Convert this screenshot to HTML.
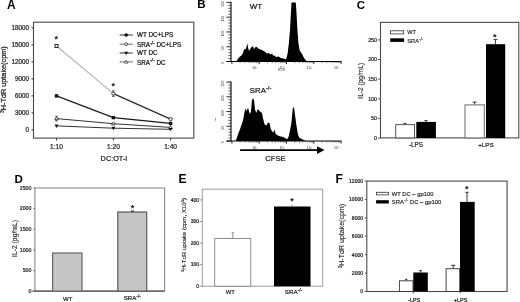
<!DOCTYPE html>
<html>
<head>
<meta charset="utf-8">
<title>Figure</title>
<style>
html,body{margin:0;padding:0;background:#fff;}
body{width:520px;height:302px;overflow:hidden;}
svg{display:block;filter:blur(0.35px);}
text{font-family:"Liberation Sans",Arial,sans-serif;fill:#111;stroke:#111;stroke-width:0.22px;}
.pl,.st{stroke:none;}
.pl{font-weight:bold;font-size:10.5px;fill:#000;}
.tk{font-size:6.3px;text-anchor:end;fill:#333;}
.tks{font-size:4.8px;text-anchor:end;fill:#333;}
.xl{font-size:6.6px;text-anchor:middle;fill:#333;}
.xls{font-size:5.4px;text-anchor:middle;fill:#333;}
.lg{font-size:6.3px;fill:#151515;}
.lgs{font-size:5.2px;fill:#222;stroke-width:0.14px;}
.yl{font-size:6.6px;text-anchor:middle;fill:#222;}
.yls{font-size:5.6px;text-anchor:middle;fill:#222;stroke-width:0.1px;}
.tiny{font-size:3.5px;fill:#333;stroke:none;text-anchor:middle;}
.ax{stroke:#444;stroke-width:0.9;fill:none;}
.axg{stroke:#888;stroke-width:0.9;fill:none;}
.st{font-size:9px;text-anchor:middle;fill:#111;font-weight:bold;}
</style>
</head>
<body>
<svg width="520" height="302" viewBox="0 0 520 302">
<rect x="0" y="0" width="520" height="302" fill="#ffffff"/>

<!-- ================= Panel A ================= -->
<g id="panelA">
<text class="pl" x="7" y="8.6" style="font-size:12px">A</text>
<rect x="33.5" y="22.2" width="160.3" height="115.9" stroke="#4a4a4a" stroke-width="1.1" fill="none"/>
<path d="M31.5 129.9H33.5M31.5 112.9H33.5M31.5 95.9H33.5M31.5 78.9H33.5M31.5 61.9H33.5M31.5 44.9H33.5M31.5 27.9H33.5M56.5 138.1V140.4M113.4 138.1V140.4M170.6 138.1V140.4" stroke="#333" stroke-width="1" fill="none"/>
<text class="tk" x="28.9" y="132.2">0</text>
<text class="tk" x="28.9" y="115.2">3000</text>
<text class="tk" x="28.9" y="98.2">6000</text>
<text class="tk" x="28.9" y="81.2">9000</text>
<text class="tk" x="28.9" y="64.2">12000</text>
<text class="tk" x="28.9" y="47.2">15000</text>
<text class="tk" x="28.9" y="30.2">18000</text>
<text class="xl" x="56.5" y="149">1:10</text>
<text class="xl" x="113.4" y="149">1:20</text>
<text class="xl" x="170.6" y="149">1:40</text>
<text class="xl" x="114" y="161.1" style="font-size:7.3px">DC:OT-I</text>
<text class="yl" transform="translate(6.3 79.7) rotate(-90)" textLength="66.8" lengthAdjust="spacingAndGlyphs" style="font-size:6.9px"><tspan font-size="4.8" dy="-2.2">3</tspan><tspan dy="2.2">H-TdR uptake(cpm)</tspan></text>
<path d="M56.5 46L113.4 93.6" stroke="#b4b4b4" stroke-width="1.15" fill="none"/>
<path d="M113.4 93.6L170.6 119.1" stroke="#2a2a2a" stroke-width="1.2" fill="none"/>
<path d="M56.5 95.9L113.4 117.6L170.6 123.4" stroke="#1a1a1a" stroke-width="1.2" fill="none"/>
<path d="M56.5 118.6L113.4 123.7L170.6 127.4" stroke="#333" stroke-width="1" fill="none"/>
<path d="M56.5 125.9L113.4 128.2L170.6 129.3" stroke="#333" stroke-width="1" fill="none"/>
<path d="M113.4 90.8V96.4M112 90.8H114.8M112 96.4H114.8M56.5 116.2V121M55.2 116.2H57.8M55.2 121H57.8" stroke="#333" stroke-width="0.7" fill="none"/>
<rect x="55" y="44.5" width="3" height="3" fill="#fff" stroke="#222" stroke-width="1"/>
<circle cx="113.4" cy="93.6" r="1.6" fill="#fff" stroke="#222" stroke-width="0.9"/>
<circle cx="170.6" cy="119.1" r="1.6" fill="#fff" stroke="#222" stroke-width="0.9"/>
<rect x="54.8" y="94.2" width="3.4" height="3.4" fill="#111"/>
<rect x="111.7" y="115.9" width="3.4" height="3.4" fill="#111"/>
<rect x="168.9" y="121.7" width="3.4" height="3.4" fill="#111"/>
<path d="M56.5 116.7L58.3 119.8H54.7ZM113.4 121.8L115.2 124.9H111.6ZM170.6 125.5L172.4 128.6H168.8Z" fill="#fff" stroke="#222" stroke-width="0.8"/>
<path d="M54.5 124.5H58.5L56.5 127.9ZM111.4 126.8H115.4L113.4 130.2ZM168.6 127.9H172.6L170.6 131.3Z" fill="#111"/>
<text class="st" x="56.2" y="42">*</text>
<text class="st" x="113.3" y="89.2">*</text>
<path d="M119.6 35H132.8M119.6 53H132.8" stroke="#333" stroke-width="1"/>
<path d="M119.6 44.2H132.8M119.6 61.9H132.8" stroke="#666" stroke-width="1"/>
<circle cx="126.2" cy="35" r="1.8" fill="#111"/>
<circle cx="126.2" cy="44.2" r="1.4" fill="#fff" stroke="#222" stroke-width="0.8"/>
<path d="M124.2 51.7H128.2L126.2 55Z" fill="#111"/>
<path d="M126.2 60.1L128 63.1H124.4Z" fill="#fff" stroke="#222" stroke-width="0.7"/>
<text class="lg" x="137" y="37.3">WT DC+LPS</text>
<text class="lg" x="137" y="47.2">SRA<tspan font-size="5" dy="-2.7">-/-</tspan><tspan dy="2.7"> DC+LPS</tspan></text>
<text class="lg" x="137" y="55.3">WT DC</text>
<text class="lg" x="137" y="64.6">SRA<tspan font-size="5" dy="-2.7">-/-</tspan><tspan dy="2.7"> DC</tspan></text>
</g>

<!-- ================= Panel B ================= -->
<g id="panelB">
<text class="pl" x="197.2" y="8.2" style="font-size:11.5px">B</text>
<path d="M236.4 61.5L238.2 58.3L240 56.4L241.8 55.2L243.1 52.8L244.2 49.2L245.5 49.2L246.4 47.3L247.3 43.3L248.2 48.3L249.1 51L250 49.2L251.5 47.3L252.8 46.1L254 49.2L255.1 47.3L257 47L258.2 48.6L260.1 49.2L261.9 50.1L263.7 51L265.5 51.9L267 53.7L268.6 52.8L270.4 54.6L272.2 53.6L273.2 56.2L273.9 54.9L276 57L278.6 56.4L280.8 58.1L283.3 58.5L286.1 59.2L287.6 53.8L288.9 43L290 30.1L290.9 12.9L291.5 2.6L295.8 2.6L296.5 12.9L297.3 28L298.4 43L299.7 50.6L301.9 53.8L304 58.1L306.2 60.7L308.3 61.5Z" fill="#000"/>
<path d="M231 1.8 V62 M226.6 61.5 H341.4" stroke="#000" stroke-width="1.1" fill="none"/>
<path d="M226.4 2.40H231M226.4 17.18H231M226.4 31.95H231M226.4 46.73H231M226.4 61.50H231" stroke="#111" stroke-width="0.9" fill="none"/>
<path d="M228.3 5.36H231M228.3 8.31H231M228.3 11.27H231M228.3 14.22H231M228.3 20.13H231M228.3 23.09H231M228.3 26.04H231M228.3 29.00H231M228.3 34.91H231M228.3 37.86H231M228.3 40.81H231M228.3 43.77H231M228.3 49.68H231M228.3 52.64H231M228.3 55.59H231M228.3 58.55H231" stroke="#222" stroke-width="0.7" fill="none"/>
<path d="M231.90 61.5V64.1M259.20 61.5V64.1M286.50 61.5V64.1M313.80 61.5V64.1M341.10 61.5V64.1" stroke="#111" stroke-width="0.9" fill="none"/>
<path d="M240.12 61.5V63.1M244.93 61.5V63.1M248.34 61.5V63.1M250.98 61.5V63.1M253.14 61.5V63.1M254.97 61.5V63.1M256.55 61.5V63.1M257.95 61.5V63.1M267.42 61.5V63.1M272.23 61.5V63.1M275.64 61.5V63.1M278.28 61.5V63.1M280.44 61.5V63.1M282.27 61.5V63.1M283.85 61.5V63.1M285.25 61.5V63.1M294.72 61.5V63.1M299.53 61.5V63.1M302.94 61.5V63.1M305.58 61.5V63.1M307.74 61.5V63.1M309.57 61.5V63.1M311.15 61.5V63.1M312.55 61.5V63.1M322.02 61.5V63.1M326.83 61.5V63.1M330.24 61.5V63.1M332.88 61.5V63.1M335.04 61.5V63.1M336.87 61.5V63.1M338.45 61.5V63.1M339.85 61.5V63.1" stroke="#333" stroke-width="0.6" fill="none"/>
<text class="tiny" x="254.8" y="69.1">10¹</text>
<text class="tiny" x="282.1" y="69.1">10²</text>
<text class="tiny" x="309.4" y="69.1">10³</text>
<text class="tiny" x="336.7" y="69.1">10⁴</text>
<text class="tiny" transform="translate(224.4 3.8) rotate(-90)">200</text>
<text class="tiny" transform="translate(224.4 18.6) rotate(-90)">150</text>
<text class="tiny" transform="translate(224.4 33.4) rotate(-90)">100</text>
<text class="tiny" transform="translate(224.4 48.1) rotate(-90)">50</text>
<text class="tiny" transform="translate(224.4 62.9) rotate(-90)">0</text>
<text class="tiny" x="281.5" y="71.4" style="font-size:2.6px">FL1-H</text>
<text class="lg" x="249.7" y="8.7" style="font-size:7.9px">WT</text>
<path d="M235.8 141L238.2 133.7L240 129.2L241.3 125.5L243.1 120L244.2 113.7L245.5 108.2L246.4 110.9L247.3 109.1L248.2 108.2L249.7 113.7L250.9 111.9L251.9 100.9L252.8 98.2L254 100L255.1 110L256.4 112.8L257.7 109.1L259.1 110.4L260.6 111.9L261.9 112.8L263.2 119.1L264.6 124.6L266.4 125.5L267.9 122.8L269.4 122.8L270.8 129.2L273.2 132.8L274.5 129.6L275.6 133.7L277.8 135.5L280.5 136.4L283.2 137L285.4 138.3L287.2 139.2L288.7 136.4L290.1 130.1L291.4 122.8L292.3 113.7L292.9 107.3L294.1 107.9L295.1 115.5L296.3 124.6L297.8 133.7L299.2 137.7L301.4 138.8L304.2 140.3L306 141Z" fill="#000"/>
<path d="M231 81.5 V141.5 M226.6 141 H341.4" stroke="#000" stroke-width="1.1" fill="none"/>
<path d="M226.4 82.10H231M226.4 96.82H231M226.4 111.55H231M226.4 126.28H231M226.4 141.00H231" stroke="#111" stroke-width="0.9" fill="none"/>
<path d="M228.3 85.04H231M228.3 87.99H231M228.3 90.94H231M228.3 93.88H231M228.3 99.77H231M228.3 102.71H231M228.3 105.66H231M228.3 108.60H231M228.3 114.50H231M228.3 117.44H231M228.3 120.38H231M228.3 123.33H231M228.3 129.22H231M228.3 132.17H231M228.3 135.11H231M228.3 138.06H231" stroke="#222" stroke-width="0.7" fill="none"/>
<path d="M231.90 141V143.6M259.20 141V143.6M286.50 141V143.6M313.80 141V143.6M341.10 141V143.6" stroke="#111" stroke-width="0.9" fill="none"/>
<path d="M240.12 141V142.6M244.93 141V142.6M248.34 141V142.6M250.98 141V142.6M253.14 141V142.6M254.97 141V142.6M256.55 141V142.6M257.95 141V142.6M267.42 141V142.6M272.23 141V142.6M275.64 141V142.6M278.28 141V142.6M280.44 141V142.6M282.27 141V142.6M283.85 141V142.6M285.25 141V142.6M294.72 141V142.6M299.53 141V142.6M302.94 141V142.6M305.58 141V142.6M307.74 141V142.6M309.57 141V142.6M311.15 141V142.6M312.55 141V142.6M322.02 141V142.6M326.83 141V142.6M330.24 141V142.6M332.88 141V142.6M335.04 141V142.6M336.87 141V142.6M338.45 141V142.6M339.85 141V142.6" stroke="#333" stroke-width="0.6" fill="none"/>
<text class="tiny" x="254.8" y="148.6">10¹</text>
<text class="tiny" x="282.1" y="148.6">10²</text>
<text class="tiny" x="309.4" y="148.6">10³</text>
<text class="tiny" x="336.7" y="148.6">10⁴</text>
<text class="tiny" transform="translate(224.4 83.5) rotate(-90)">200</text>
<text class="tiny" transform="translate(224.4 98.2) rotate(-90)">150</text>
<text class="tiny" transform="translate(224.4 113.0) rotate(-90)">100</text>
<text class="tiny" transform="translate(224.4 127.7) rotate(-90)">50</text>
<text class="tiny" transform="translate(224.4 142.4) rotate(-90)">0</text>
<text class="tiny" transform="translate(216.3 119.4) rotate(-90)" style="font-size:1.1px">Counts</text>
<text class="lg" x="249.8" y="92.5" style="font-size:7.8px">SRA<tspan font-size="6" dy="-2.7">-/-</tspan></text>
<path d="M240.1 150.1H318" stroke="#000" stroke-width="1.7" fill="none"/>
<path d="M317 146.2L324.5 150.1L317 154Z" fill="#000"/>
<text class="xl" x="275.5" y="161" style="font-size:7.7px">CFSE</text>
</g>

<!-- ================= Panel C ================= -->
<g id="panelC">
<text class="pl" transform="translate(356.7 8.5) scale(1.1 1)" style="font-size:10.4px">C</text>
<rect x="380.5" y="22.4" width="138.3" height="115.5" stroke="#4a4a4a" stroke-width="1.1" fill="none"/>
<path d="M378 138.0H380.5M378 118.4H380.5M378 98.8H380.5M378 79.1H380.5M378 59.5H380.5M378 39.9H380.5" stroke="#444" stroke-width="0.9" fill="none"/>
<text class="tks" x="377" y="139.9" style="font-size:5.3px">0</text>
<text class="tks" x="377" y="120.3" style="font-size:5.3px">50</text>
<text class="tks" x="377" y="100.7" style="font-size:5.3px">100</text>
<text class="tks" x="377" y="81.0" style="font-size:5.3px">150</text>
<text class="tks" x="377" y="61.4" style="font-size:5.3px">200</text>
<text class="tks" x="377" y="41.8" style="font-size:5.3px">250</text>
<text class="yls" transform="translate(363 80.8) rotate(-90)" style="font-size:6.5px" textLength="35.8" lengthAdjust="spacingAndGlyphs">IL-2 (pg/mL)</text>
<rect x="395.7" y="124.6" width="18.8" height="13.3" fill="#fff" stroke="#555" stroke-width="1"/>
<rect x="416.3" y="121.9" width="19.6" height="16.1" fill="#000"/>
<rect x="465" y="104.9" width="19.3" height="33" fill="#fff" stroke="#777" stroke-width="1.1"/>
<rect x="486" y="44.2" width="19.2" height="93.8" fill="#000"/>
<path d="M404.9 124.2V123.4M403.4 123.4H406.4M426 121.9V120.6M424.4 120.6H427.6M474.6 104.4V102.1M472.6 102.1H476.6M495.4 44.2V39.6M493.3 39.6H497.6" stroke="#222" stroke-width="0.9" fill="none"/>
<text class="st" x="494.8" y="39.9">*</text>
<text class="xls" x="416" y="147" style="font-size:6.3px">-LPS</text>
<text class="xls" x="485.9" y="146.9" style="font-size:6.2px">+LPS</text>
<rect x="390.6" y="30.8" width="13.1" height="3.1" fill="#fff" stroke="#333" stroke-width="0.8"/>
<rect x="390.2" y="38.3" width="13.9" height="3.6" fill="#000"/>
<text class="lgs" x="407.3" y="34" style="font-size:5.5px">WT</text>
<text class="lgs" x="407.3" y="43.4" style="font-size:5.7px">SRA<tspan font-size="4.6" dy="-2.2">-/-</tspan></text>
</g>

<!-- ================= Panel D ================= -->
<g id="panelD">
<text class="pl" x="14.5" y="183.1" style="font-size:11.6px">D</text>
<rect x="34.9" y="188" width="129.7" height="103.1" stroke="#8a8a8a" stroke-width="1.1" fill="none"/>
<path d="M32.3 291.1H164.6" stroke="#555" stroke-width="1.1" fill="none"/>
<path d="M33.3 291.1H34.9M33.3 270.5H34.9M33.3 249.9H34.9M33.3 229.2H34.9M33.3 208.6H34.9M33.3 188.0H34.9" stroke="#666" stroke-width="0.9" fill="none"/>
<text class="tks" x="31.4" y="292.7" style="font-size:5.2px">0</text>
<text class="tks" x="31.4" y="272.1" style="font-size:5.2px">500</text>
<text class="tks" x="31.4" y="251.5" style="font-size:5.2px">1000</text>
<text class="tks" x="31.4" y="230.8" style="font-size:5.2px">1500</text>
<text class="tks" x="31.4" y="210.2" style="font-size:5.2px">2000</text>
<text class="tks" x="31.4" y="189.6" style="font-size:5.2px">2500</text>
<text class="yls" transform="translate(16.8 238.5) rotate(-90)" style="font-size:6.7px" textLength="37" lengthAdjust="spacingAndGlyphs">IL-2 (pg/mL)</text>
<rect x="52.6" y="253" width="29.4" height="38.1" fill="#c5c5c5" stroke="#666" stroke-width="1.2"/>
<rect x="117.8" y="212" width="28.9" height="79.1" fill="#c5c5c5" stroke="#5a5a5a" stroke-width="1.2"/>
<path d="M130.9 211.1H133.9" stroke="#111" stroke-width="1.1"/>
<text class="st" x="132.4" y="211.1">*</text>
<text class="xls" x="67.7" y="300.5" style="font-size:6px">WT</text>
<text class="xls" x="123.7" y="300.4" style="font-size:6.1px;text-anchor:start">SRA<tspan font-size="5" dy="-2.4">-/-</tspan></text>
</g>

<!-- ================= Panel E ================= -->
<g id="panelE">
<text class="pl" x="178.4" y="183.2" style="font-size:12.1px">E</text>
<rect x="202.3" y="189.2" width="120.4" height="97" stroke="#9a9a9a" stroke-width="1" fill="none"/>
<path d="M199.6 286.2H202.3M199.6 264.6H202.3M199.6 243.1H202.3M199.6 221.5H202.3M199.6 199.9H202.3" stroke="#888" stroke-width="0.9" fill="none"/>
<text class="tks" x="199" y="288.0" style="font-size:5px">0</text>
<text class="tks" x="199" y="266.4" style="font-size:5px">100</text>
<text class="tks" x="199" y="244.9" style="font-size:5px">200</text>
<text class="tks" x="199" y="223.3" style="font-size:5px">300</text>
<text class="tks" x="199" y="201.7" style="font-size:5px">400</text>
<text class="yls" transform="translate(186.3 235) rotate(-90)" style="font-size:6.2px" textLength="74" lengthAdjust="spacingAndGlyphs"><tspan font-size="4.3" dy="-2">3</tspan><tspan dy="2">H-TdR uptake (cpm, X10</tspan><tspan font-size="4.3" dy="-2">3</tspan><tspan dy="2">)</tspan></text>
<rect x="214.7" y="238.5" width="36.1" height="47.7" fill="#fff" stroke="#808080" stroke-width="0.9"/>
<rect x="274" y="206.5" width="36.5" height="79.8" fill="#000"/>
<path d="M232.8 238.3V232.8M231.6 232.8H234" stroke="#808080" stroke-width="0.9" fill="none"/>
<path d="M292 206.5V204.6" stroke="#666" stroke-width="0.9" fill="none"/>
<text class="st" x="291.9" y="204.1">*</text>
<text class="xls" x="230.4" y="294.3" style="font-size:5.9px">WT</text>
<text class="xls" x="284.8" y="294.4" style="font-size:6.2px;text-anchor:start">SRA<tspan font-size="5" dy="-2.4">-/-</tspan></text>
</g>

<!-- ================= Panel F ================= -->
<g id="panelF">
<text class="pl" x="335.6" y="183.2" style="font-size:12.1px">F</text>
<rect x="366.8" y="181.1" width="140.3" height="110.4" stroke="#4a4a4a" stroke-width="1.1" fill="none"/>
<path d="M364.8 291.5H366.8M364.8 273.1H366.8M364.8 254.7H366.8M364.8 236.2H366.8M364.8 217.8H366.8M364.8 199.4H366.8M364.8 181.0H366.8" stroke="#444" stroke-width="0.9" fill="none"/>
<path d="M413.3 291.5V293.3M460.2 291.5V293.3" stroke="#444" stroke-width="0.9" fill="none"/>
<text class="tks" x="363.2" y="293.4" style="font-size:5.1px">0</text>
<text class="tks" x="363.2" y="274.9" style="font-size:5.1px">2000</text>
<text class="tks" x="363.2" y="256.5" style="font-size:5.1px">4000</text>
<text class="tks" x="363.2" y="238.1" style="font-size:5.1px">6000</text>
<text class="tks" x="363.2" y="219.7" style="font-size:5.1px">8000</text>
<text class="tks" x="363.2" y="201.3" style="font-size:5.1px">10000</text>
<text class="tks" x="363.2" y="182.8" style="font-size:5.1px">12000</text>
<text class="yls" transform="translate(343.9 236.2) rotate(-90)" style="font-size:6.8px" textLength="64.5" lengthAdjust="spacingAndGlyphs"><tspan font-size="4.7" dy="-2.2">3</tspan><tspan dy="2.2">H-TdR uptake(cpm)</tspan></text>
<rect x="399.4" y="280.8" width="13.6" height="10.7" fill="#fff" stroke="#333" stroke-width="0.9"/>
<rect x="413.3" y="272.5" width="14.5" height="19" fill="#000"/>
<rect x="446.1" y="268.7" width="13.6" height="22.8" fill="#fff" stroke="#333" stroke-width="0.9"/>
<rect x="460" y="201.9" width="14.7" height="89.6" fill="#000"/>
<path d="M406.2 280.4V279.4M405 279.4H407.4M420.6 272.5V270.4M419.3 270.4H421.9M453.2 268.3V265.3M451.1 265.3H455.3M467 201.9V192.3M465.3 192.3H468.7" stroke="#222" stroke-width="0.9" fill="none"/>
<text class="st" x="466.7" y="192.4">*</text>
<text class="xls" x="414" y="301.6" style="font-size:5.6px">-LPS</text>
<text class="xls" x="460.6" y="301.6" style="font-size:5.5px">+LPS</text>
<rect x="376.5" y="192.3" width="11.9" height="2.6" fill="#fff" stroke="#333" stroke-width="0.8"/>
<rect x="376.1" y="200.2" width="12.7" height="3.3" fill="#000"/>
<text class="lgs" x="391.8" y="195.7" style="font-size:5.8px" textLength="41.6" lengthAdjust="spacingAndGlyphs">WT DC – gp100</text>
<text class="lgs" x="391.8" y="204.2" style="font-size:5.8px" textLength="49.5" lengthAdjust="spacingAndGlyphs">SRA<tspan font-size="4.6" dy="-2.2">-/-</tspan><tspan dy="2.2"> DC – gp100</tspan></text>
</g>
</svg>
</body>
</html>
